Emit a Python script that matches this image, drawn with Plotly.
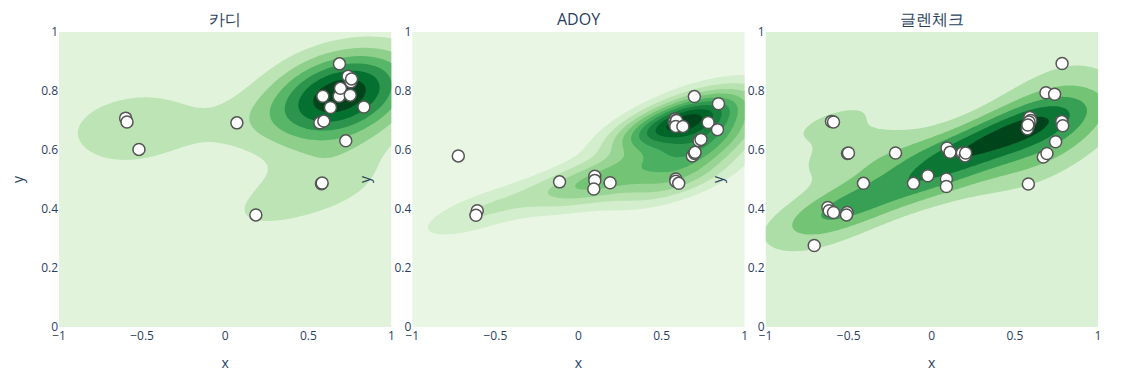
import numpy as np
import plotly.graph_objects as go
from plotly.subplots import make_subplots

titles = ["카디", "ADOY", "글렌체크"]

kadi_x = [-0.599, -0.591, -0.519, 0.070, 0.184, 0.579, 0.583, 0.569, 0.593, 0.587,
          0.633, 0.685, 0.693, 0.687, 0.739, 0.756, 0.760, 0.752, 0.725, 0.834]
kadi_y = [0.708, 0.695, 0.602, 0.692, 0.380, 0.486, 0.488, 0.692, 0.698, 0.782,
          0.744, 0.782, 0.809, 0.892, 0.850, 0.831, 0.841, 0.786, 0.631, 0.746]

adoy_x = [-0.723, -0.609, -0.617, -0.114, 0.098, 0.098, 0.092, 0.190, 0.585, 0.585,
          0.603, 0.697, 0.842, 0.780, 0.836, 0.725, 0.737, 0.685, 0.699, 0.701,
          0.580, 0.585, 0.590, 0.575, 0.580, 0.590, 0.585, 0.628]
adoy_y = [0.580, 0.394, 0.379, 0.492, 0.511, 0.497, 0.468, 0.489, 0.502, 0.494,
          0.487, 0.781, 0.757, 0.693, 0.669, 0.631, 0.636, 0.580, 0.588, 0.592,
          0.705, 0.700, 0.695, 0.695, 0.688, 0.700, 0.680, 0.680]

glen_x = [0.784, 0.687, 0.739, -0.603, -0.591, -0.507, -0.501, -0.218, -0.411, -0.110,
          -0.024, 0.088, 0.088, 0.092, 0.110, 0.184, 0.200, 0.204, -0.625, -0.617,
          -0.591, -0.509, -0.513, -0.707, 0.581, 0.671, 0.693, 0.745, 0.782, 0.788,
          0.590, 0.595, 0.585, 0.580, 0.575, 0.578]
glen_y = [0.893, 0.794, 0.789, 0.697, 0.695, 0.588, 0.590, 0.590, 0.487, 0.487,
          0.513, 0.502, 0.476, 0.607, 0.592, 0.590, 0.580, 0.590, 0.405, 0.394,
          0.388, 0.388, 0.380, 0.276, 0.485, 0.576, 0.588, 0.628, 0.697, 0.682,
          0.710, 0.700, 0.695, 0.680, 0.672, 0.685]

datasets = [(kadi_x, kadi_y), (adoy_x, adoy_y), (glen_x, glen_y)]

greens = ["rgb(247,252,245)", "rgb(229,245,224)", "rgb(199,233,192)", "rgb(161,217,155)",
          "rgb(116,196,118)", "rgb(65,171,93)", "rgb(35,139,69)", "rgb(0,109,44)", "rgb(0,68,27)"]
cscale = [[i / 8, c] for i, c in enumerate(greens)]


def kde(xs, ys, gx, gy, factor):
    pts = np.vstack([xs, ys])
    n = pts.shape[1]
    cov = np.cov(pts) * factor ** 2
    inv = np.linalg.inv(cov)
    norm = 1.0 / (2 * np.pi * np.sqrt(np.linalg.det(cov)) * n)
    X, Y = np.meshgrid(gx, gy)
    Z = np.zeros_like(X)
    for i in range(n):
        dx = X - pts[0, i]
        dy = Y - pts[1, i]
        q = inv[0, 0] * dx * dx + 2 * inv[0, 1] * dx * dy + inv[1, 1] * dy * dy
        Z += np.exp(-0.5 * q)
    return Z * norm


fig = make_subplots(rows=1, cols=3, subplot_titles=titles, horizontal_spacing=0.02)

gx = np.linspace(-1, 1, 160)
gy = np.linspace(0, 1, 120)

for i, (xs, ys) in enumerate(datasets):
    n = len(xs)
    factor = n ** (-1 / 6)
    Z = kde(np.array(xs), np.array(ys), gx, gy, factor)
    fig.add_trace(go.Contour(x=gx, y=gy, z=Z, colorscale=cscale, showscale=False,
                             ncontours=14, line=dict(width=0), hoverinfo="skip"),
                  row=1, col=i + 1)
    fig.add_trace(go.Scatter(x=xs, y=ys, mode="markers",
                             marker=dict(size=12, color="white",
                                         line=dict(color="#555555", width=1.5)),
                             showlegend=False),
                  row=1, col=i + 1)
    fig.update_xaxes(range=[-1, 1], title_text="x", showgrid=False, zeroline=False,
                     automargin=False, row=1, col=i + 1)
    fig.update_yaxes(range=[0, 1], title_text="y", showgrid=False, zeroline=False,
                     automargin=False, title_standoff=20, row=1, col=i + 1)

fig.update_layout(width=1123, height=364, template="plotly_white",
                  margin=dict(l=51, r=33, t=24, b=45, autoexpand=False), showlegend=False)

fig.write_html("out.html")
